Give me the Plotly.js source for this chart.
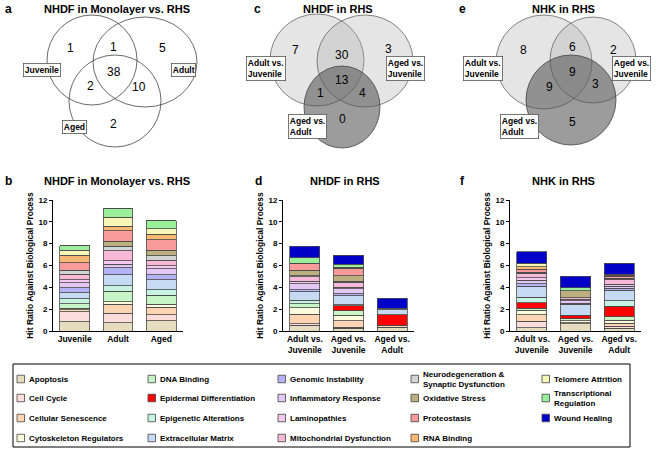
<!DOCTYPE html>
<html>
<head>
<meta charset="utf-8">
<script src="https://cdn.plot.ly/plotly-3.0.1.min.js"></script>
<style>
  html, body { margin: 0; padding: 0; background: #fff; }
  #fig { width: 656px; height: 449px; }
</style>
</head>
<body>
<div id="fig"></div>
<script>
// biological process categories, bottom of the stack first
var cats = ['Apoptosis', 'Cell Cycle', 'Cellular Senescence', 'Cytoskeleton Regulators',
    'DNA Binding', 'Epidermal Differentiation', 'Epigenetic Alterations', 'Extracellular Matrix',
    'Genomic Instability', 'Inflammatory Response', 'Laminopathies', 'Mitochondrial Dysfunction',
    'Neurodegeneration &<br>Synaptic Dysfunction', 'Oxidative Stress', 'Proteostasis', 'RNA Binding',
    'Telomere Attrition', 'Transcriptional<br>Regulation', 'Wound Healing'];
var colors = ['#e6dcc0', '#fddcdc', '#fdd5b3', '#fbfbdc', '#c8f5c8', '#ff0000', '#c6f2e2', '#c6daf4',
    '#b3b3f5', '#e3c8f5', '#f3c8ee', '#f8b9d8', '#d3d3d3', '#bdb080', '#f99b9b', '#fbb872',
    '#f6f6b6', '#9af09a', '#0000c8'];

var groupsB = ['Juvenile', 'Adult', 'Aged'];
var groupsRHS = ['Adult vs.<br>Juvenile', 'Aged vs.<br>Juvenile', 'Aged vs.<br>Adult'];

// hit ratio per category: [group1, group2, group3]
var hitB = [[0.83, 0.77, 0.95], [0.92, 0.86, 0.53], [0.19, 0.83, 0.70], [0.16, 0.24, 0.28],
    [0.40, 0.96, 0.80], [0, 0, 0], [0.45, 0.49, 0.52], [0.55, 1.02, 0.92],
    [0.45, 0.63, 0.47], [0.45, 0.30, 0.55], [0.30, 0.35, 0.28], [0.50, 0.90, 0.50],
    [0.35, 0.40, 0.40], [0, 0.45, 0.48], [0.70, 1.00, 1.00], [0.70, 0.40, 0.50],
    [0.45, 0.80, 0.50], [0.40, 0.83, 0.70], [0, 0, 0]];
var hitD = [[0.55, 0.25, 0.30], [0.10, 0.10, 0.05], [0.90, 0.60, 0.20], [0.60, 0.50, 0],
    [0.35, 0.40, 0], [0, 0.45, 0.95], [0.30, 0.10, 0], [0.80, 0.85, 0.45],
    [0.20, 0.15, 0.15], [0.55, 0.45, 0], [0.20, 0.15, 0], [0.40, 0.45, 0],
    [0.10, 0.10, 0], [0.50, 0.50, 0], [0.65, 0.70, 0], [0, 0, 0],
    [0, 0.10, 0], [0.50, 0.25, 0], [1.05, 0.85, 0.90]];
var hitF = [[0.30, 0.65, 0.25], [0.60, 0.10, 0.20], [0.60, 0, 0.25], [0.40, 0.20, 0.30],
    [0.20, 0.15, 0.30], [0.50, 0.35, 0.95], [0.50, 0, 0.50], [1.00, 1.00, 1.00],
    [0.25, 0.10, 0.15], [0.30, 0.20, 0.20], [0.25, 0.15, 0.20], [0.40, 0.15, 0.45],
    [0.10, 0, 0.10], [0, 0.65, 0], [0.25, 0, 0.15], [0.25, 0, 0.10],
    [0.30, 0, 0.10], [0, 0.25, 0], [1.05, 1.05, 1.00]];

// venn counts: [only1, 1&2, only2, all, 1&3, 2&3, only3]
var vennA = [1, 1, 5, 38, 2, 10, 2];
var vennC = [7, 30, 3, 13, 1, 4, 0];
var vennE = [8, 6, 2, 9, 9, 3, 5];
var vennALabels = ['Juvenile', 'Adult', 'Aged'];
var vennRHSLabels = ['Adult vs.<br>Juvenile', 'Aged vs.<br>Juvenile', 'Aged vs.<br>Adult'];

var W = 656, H = 449;
var FONT = 'Arial, "Liberation Sans", sans-serif';
function px(x) { return x / W; }
function py(y) { return 1 - y / H; }

var data = [];
function addStack(vals, groups, xa, ya) {
    for (var i = 0; i < cats.length; i++) {
        data.push({
            type: 'bar', x: groups, y: vals[i], xaxis: xa, yaxis: ya,
            name: cats[i].replace('<br>', ' '), showlegend: false,
            marker: {color: colors[i], line: {color: '#4a4a4a', width: 0.8}}
        });
    }
}
addStack(hitB, groupsB, 'x', 'y');
addStack(hitD, groupsRHS, 'x2', 'y2');
addStack(hitF, groupsRHS, 'x3', 'y3');

var ydom = [py(331), py(200)];
function xax(l, r) {
    return {
        domain: [px(l), px(r)], type: 'category', range: [-0.5, 2.5], showline: true,
        linecolor: '#000', linewidth: 1, ticks: '', showgrid: false, zeroline: false,
        tickfont: {family: FONT, size: 8.5, color: '#000', weight: 'bold'}
    };
}
function yax(anchor) {
    return {
        domain: ydom, anchor: anchor, range: [0, 12], dtick: 2, showline: true,
        linecolor: '#000', linewidth: 1, ticks: 'outside', ticklen: 3, tickcolor: '#000',
        showgrid: false, zeroline: false,
        tickfont: {family: FONT, size: 8, color: '#000', weight: 'bold'},
        title: {text: 'Hit Ratio Against Biological Process', standoff: 3,
            font: {family: FONT, size: 8.5, color: '#000', weight: 'bold'}}
    };
}

var shapes = [], annotations = [];
function ann(x, y, text, opts) {
    var a = {xref: 'paper', yref: 'paper', x: px(x), y: py(y), text: text, showarrow: false,
        xanchor: 'center', yanchor: 'middle',
        font: {family: FONT, size: 11, color: '#000', weight: 'bold'}};
    for (var k in opts) a[k] = opts[k];
    annotations.push(a);
}
function ellipse(cx, cy, rx, ry, fill, line) {
    shapes.push({type: 'circle', xref: 'paper', yref: 'paper',
        x0: px(cx - rx), x1: px(cx + rx), y0: py(cy + ry), y1: py(cy - ry),
        fillcolor: fill, line: {color: line, width: 0.8}});
}
function boxLabel(x, y, text) {
    ann(x, y, text, {xanchor: 'left', align: 'left', bgcolor: '#fff',
        bordercolor: '#555', borderwidth: 0.8, borderpad: 1,
        font: {family: FONT, size: 8.5, color: '#000', weight: 'bold'}});
}
function counts(vals, pos) {
    for (var i = 0; i < vals.length; i++) {
        ann(pos[i][0], pos[i][1], String(vals[i]), {font: {family: FONT, size: 12, color: '#000'}});
    }
}

// panel letters and titles
var letterFont = {family: FONT, size: 12, color: '#000', weight: 'bold'};
ann(3, 9, 'a', {xanchor: 'left', font: letterFont});
ann(252, 9, 'c', {xanchor: 'left', font: letterFont});
ann(457, 9, 'e', {xanchor: 'left', font: letterFont});
ann(3, 181, 'b', {xanchor: 'left', font: letterFont});
ann(253, 181, 'd', {xanchor: 'left', font: letterFont});
ann(458, 181, 'f', {xanchor: 'left', font: letterFont});
ann(117, 9, 'NHDF in Monolayer vs. RHS');
ann(338, 9, 'NHDF in RHS');
ann(563, 9, 'NHK in RHS');
ann(117, 181, 'NHDF in Monolayer vs. RHS');
ann(345, 181, 'NHDF in RHS');
ann(563, 181, 'NHK in RHS');

// venn a
ellipse(92, 60, 45, 45, 'rgba(0,0,0,0)', '#444');
ellipse(145, 62, 52, 45, 'rgba(0,0,0,0)', '#444');
ellipse(115, 101, 46, 46, 'rgba(0,0,0,0)', '#444');
counts(vennA, [[70, 48], [114, 47], [162, 48], [114, 72], [90, 86], [139, 87], [114, 124]]);
boxLabel(23, 70, vennALabels[0]);
boxLabel(171, 70, vennALabels[1]);
boxLabel(62, 127, vennALabels[2]);

// venn c
ellipse(317, 60, 47, 46, 'rgba(175,175,175,0.32)', '#666');
ellipse(365, 61, 48, 46, 'rgba(175,175,175,0.32)', '#666');
ellipse(342, 107, 38, 41, 'rgba(85,85,85,0.58)', '#444');
counts(vennC, [[295, 50], [342, 55], [388, 49], [342, 80], [320, 93], [362, 93], [342, 119]]);
boxLabel(246, 69, vennRHSLabels[0]);
boxLabel(386, 69, vennRHSLabels[1]);
boxLabel(288, 126, vennRHSLabels[2]);

// venn e
ellipse(544, 62, 48, 47, 'rgba(175,175,175,0.32)', '#666');
ellipse(593, 60, 43, 43, 'rgba(175,175,175,0.32)', '#666');
ellipse(571, 100, 45, 45, 'rgba(85,85,85,0.58)', '#444');
counts(vennE, [[523, 50], [572, 47], [613, 50], [572, 72], [549, 87], [595, 84], [572, 122]]);
boxLabel(463, 69, vennRHSLabels[0]);
boxLabel(612, 69, vennRHSLabels[1]);
boxLabel(500, 126, vennRHSLabels[2]);

// legend box, column-major grid built from the categories
shapes.push({type: 'rect', xref: 'paper', yref: 'paper', x0: px(13), x1: px(630),
    y0: py(447), y1: py(364), line: {color: '#000', width: 1}, fillcolor: 'rgba(0,0,0,0)'});
var colX = [17, 148, 278, 411, 542], rowY = [379, 398, 418, 438];
for (var i = 0; i < cats.length; i++) {
    var cx = colX[Math.floor(i / 4)], cy = rowY[i % 4];
    shapes.push({type: 'rect', xref: 'paper', yref: 'paper', x0: px(cx), x1: px(cx + 7.5),
        y0: py(cy + 3.75), y1: py(cy - 3.75), fillcolor: colors[i], line: {color: '#444', width: 0.8}});
    ann(cx + 10, cy, cats[i], {xanchor: 'left', align: 'left',
        font: {family: FONT, size: 8, color: '#000', weight: 'bold'}});
}

var layout = {
    width: W, height: H, margin: {l: 0, r: 0, t: 0, b: 0},
    paper_bgcolor: '#fff', plot_bgcolor: '#fff',
    barmode: 'stack', bargap: 0.31, showlegend: false,
    xaxis: xax(53, 183), yaxis: yax('x'),
    xaxis2: xax(283, 414), yaxis2: yax('x2'),
    xaxis3: xax(510, 641), yaxis3: yax('x3'),
    shapes: shapes, annotations: annotations
};
layout.xaxis2.anchor = 'y2';
layout.xaxis3.anchor = 'y3';

Plotly.newPlot('fig', data, layout, {displayModeBar: false, staticPlot: true});
</script>
</body>
</html>
